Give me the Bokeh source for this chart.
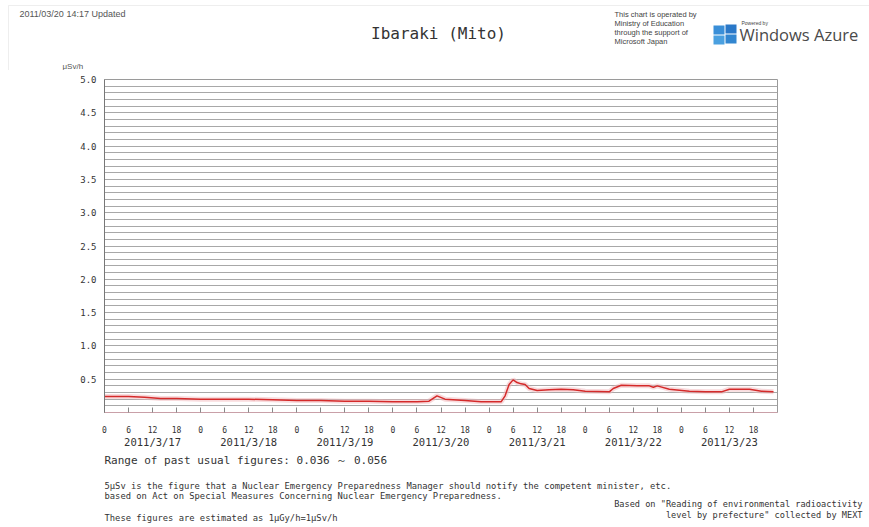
import pandas as pd
from bokeh.plotting import figure
from bokeh.layouts import column
from bokeh.models import (Label, LinearAxis, FixedTicker, SingleIntervalTicker,
                          Range1d, BoxAnnotation, NumeralTickFormatter)
from bokeh.embed import file_html
from bokeh.resources import INLINE

# ---------------- data ----------------
times = ["2011-03-17 00:00", "2011-03-17 06:00", "2011-03-17 10:00", "2011-03-17 14:00",
         "2011-03-17 18:00", "2011-03-18 00:00", "2011-03-18 06:00", "2011-03-18 12:00",
         "2011-03-18 18:00", "2011-03-19 00:00", "2011-03-19 06:00", "2011-03-19 12:00",
         "2011-03-19 18:00", "2011-03-20 00:00", "2011-03-20 06:00", "2011-03-20 09:00",
         "2011-03-20 11:00", "2011-03-20 13:00", "2011-03-20 18:00", "2011-03-20 22:00",
         "2011-03-21 03:00", "2011-03-21 04:00", "2011-03-21 05:00", "2011-03-21 06:00",
         "2011-03-21 07:00", "2011-03-21 08:00", "2011-03-21 09:00", "2011-03-21 10:00",
         "2011-03-21 12:00", "2011-03-21 15:00", "2011-03-21 18:00", "2011-03-21 21:00",
         "2011-03-22 00:00", "2011-03-22 06:00", "2011-03-22 07:00", "2011-03-22 09:00",
         "2011-03-22 13:00", "2011-03-22 16:00", "2011-03-22 17:00", "2011-03-22 18:00",
         "2011-03-22 21:00", "2011-03-23 02:00", "2011-03-23 06:00", "2011-03-23 10:00",
         "2011-03-23 12:00", "2011-03-23 17:00", "2011-03-23 20:00", "2011-03-23 23:00"]
dose = [0.24, 0.24, 0.23, 0.21,
        0.21, 0.20, 0.20, 0.20,
        0.19, 0.18, 0.18, 0.17,
        0.17, 0.16, 0.16, 0.17,
        0.25, 0.20, 0.18, 0.16,
        0.16, 0.25, 0.42, 0.49,
        0.45, 0.43, 0.42, 0.36,
        0.33, 0.34, 0.35, 0.34,
        0.32, 0.31, 0.36, 0.41,
        0.40, 0.40, 0.38, 0.40,
        0.35, 0.32, 0.31, 0.31,
        0.35, 0.35, 0.32, 0.31]
days = ["2011/3/17", "2011/3/18", "2011/3/19", "2011/3/20", "2011/3/21", "2011/3/22", "2011/3/23"]
hour_labels = [0, 6, 12, 18]
y_ticks = [0.5, 1.0, 1.5, 2.0, 2.5, 3.0, 3.5, 4.0, 4.5, 5.0]

start = pd.Timestamp("2011-03-17 00:00")
hours = [(pd.Timestamp(t) - start).total_seconds() / 3600.0 for t in times]

W = 869
TOP_H, MAIN_H, BOT_H = 70, 380, 77
MONO = "DejaVu Sans Mono"
SANS = "Liberation Sans"
TXT = "#333333"


def text_fig(h):
    f = figure(width=W, height=h, output_backend="svg", toolbar_location=None,
               x_axis_type=None, y_axis_type=None, min_border=0, frame_align=False,
               x_range=Range1d(0, 1), y_range=Range1d(0, 1))
    f.outline_line_color = None
    f.grid.grid_line_color = None
    f.background_fill_color = "white"
    f.border_fill_color = "white"
    return f


def lab(f, h, x, y, text, size, font=MONO, align="left", color=TXT):
    # x, y: pixel position inside this figure, measured from its top-left corner
    f.add_layout(Label(x=x, y=h - y, x_units="screen", y_units="screen",
                       text=text, text_font=font, text_font_size=size,
                       text_align=align, text_baseline="middle", text_color=color))


# ---------------- header ----------------
top = text_fig(TOP_H)
top.add_layout(BoxAnnotation(left=8, right=W + 20, top=TOP_H - 5, bottom=-20,
                             left_units="screen", right_units="screen",
                             top_units="screen", bottom_units="screen",
                             fill_alpha=0, line_color="#c8c8c8", line_width=1))
lab(top, TOP_H, 19, 13, "2011/03/20 14:17 Updated", "9px", font=SANS, color="#555555")
lab(top, TOP_H, 438, 33, "Ibaraki (Mito)", "16px", align="center")
lab(top, TOP_H, 62, 66, "μSv/h", "8px", font=SANS, color="#555555")
for i, s in enumerate(["This chart is operated by", "Ministry of Education",
                       "through the support of", "Microsoft Japan"]):
    lab(top, TOP_H, 614, 14 + 9 * i, s, "7.5px", font=SANS, color="#444444")
lab(top, TOP_H, 741, 22, "Powered by", "5px", font=SANS, color="#444444")
lab(top, TOP_H, 739, 34, "Windows Azure", "16.5px", font="Open Sans", color="#4a4a4a")
for (x0, y0, c) in [(713, 25, "#3a8fd8"), (725, 24, "#2a78c8"),
                    (713, 35, "#4aa0e0"), (725, 34, "#3286d0")]:
    top.add_layout(BoxAnnotation(left=x0, right=x0 + 11, top=TOP_H - y0, bottom=TOP_H - y0 - 9,
                                 left_units="screen", right_units="screen",
                                 top_units="screen", bottom_units="screen",
                                 fill_color=c, fill_alpha=1, line_color=None))

# ---------------- main chart ----------------
p = figure(width=W, height=MAIN_H, output_backend="svg", toolbar_location=None,
           x_range=Range1d(0, 24 * len(days)), y_range=Range1d(0, 5.0),
           min_border_left=104, min_border_right=92, min_border_top=9, min_border_bottom=34,
           x_axis_type=None, frame_align=False)
p.background_fill_color = "white"
p.border_fill_color = "white"
p.outline_line_color = "#9a9a9a"

p.line(hours, dose, line_color="#f2b8bc", line_width=5, line_alpha=0.5)
p.line(hours, dose, line_color="#d42a2a", line_width=1.5)

p.yaxis.ticker = FixedTicker(ticks=y_ticks)
p.yaxis.formatter = NumeralTickFormatter(format="0.0")
p.yaxis.major_tick_out = 0
p.yaxis.major_tick_in = 0
p.yaxis.minor_tick_line_color = None
p.yaxis.axis_line_color = "#777777"
p.yaxis.major_label_text_font = MONO
p.yaxis.major_label_text_font_size = "9px"
p.yaxis.major_label_text_color = TXT
p.yaxis.major_label_standoff = 8

p.ygrid.ticker = SingleIntervalTicker(interval=0.1)
p.ygrid.grid_line_color = "#a8a8a8"
p.ygrid.grid_line_width = 1
p.xgrid.grid_line_color = None

ticks6 = [d * 24 + h for d in range(len(days)) for h in hour_labels]
ax1 = LinearAxis(ticker=FixedTicker(ticks=ticks6),
                 major_label_overrides={t: str(int(t % 24)) for t in ticks6})
ax1.major_tick_in = 5
ax1.major_tick_out = 0
ax1.minor_tick_line_color = None
ax1.axis_line_color = "#c9a0a8"
ax1.major_tick_line_color = "#888888"
ax1.major_label_text_font = MONO
ax1.major_label_text_font_size = "8px"
ax1.major_label_text_color = TXT
ax1.major_label_standoff = 13
p.add_layout(ax1, "below")

noon = [d * 24 + 12 for d in range(len(days))]
ax2 = LinearAxis(ticker=FixedTicker(ticks=noon),
                 major_label_overrides={t: days[i] for i, t in enumerate(noon)})
ax2.axis_line_color = None
ax2.major_tick_line_color = None
ax2.minor_tick_line_color = None
ax2.major_label_text_font = MONO
ax2.major_label_text_font_size = "10.5px"
ax2.major_label_text_color = TXT
ax2.major_label_standoff = -6
p.add_layout(ax2, "below")

# ---------------- footer ----------------
bot = text_fig(BOT_H)
lab(bot, BOT_H, 104, 10, "Range of past usual figures: 0.036 ～ 0.056", "11px")
lab(bot, BOT_H, 104, 35, "5μSv is the figure that a Nuclear Emergency Preparedness Manager should notify the competent minister, etc.", "8.8px")
lab(bot, BOT_H, 104, 45, "based on Act on Special Measures Concerning Nuclear Emergency Preparedness.", "8.8px")
lab(bot, BOT_H, 104, 67, "These figures are estimated as 1μGy/h=1μSv/h", "8.8px")
lab(bot, BOT_H, 862, 53, "Based on \"Reading of environmental radioactivity", "8.6px", align="right")
lab(bot, BOT_H, 862, 64, "level by prefecture\" collected by MEXT", "8.6px", align="right")

layout = column(top, p, bot, spacing=0)
open("out.html", "w").write(file_html(layout, INLINE))
